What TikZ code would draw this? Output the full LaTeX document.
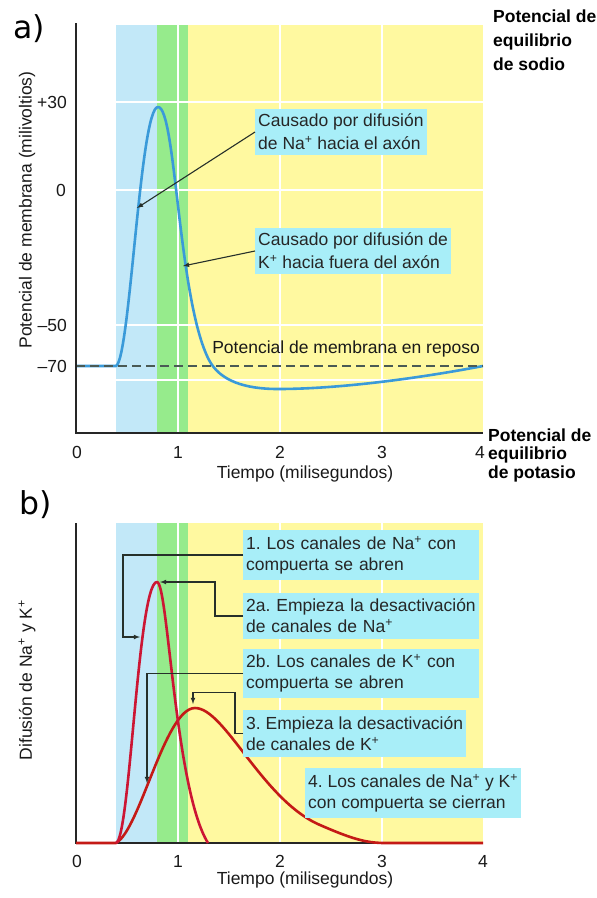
\documentclass[tikz,border=0pt]{standalone}
\usepackage{fontspec}
\setmainfont{Liberation Sans}
\newfontfamily\panelfont{DejaVu Sans}
\usepackage{xcolor}
\usepackage{tikz}

\definecolor{bandblue}{HTML}{C2E8F8}
\definecolor{bandgreen}{HTML}{96EB8C}
\definecolor{bandyellow}{HTML}{FFF9A0}
\definecolor{boxcyan}{HTML}{A8EEF8}
\definecolor{apblue}{HTML}{3A9AD9}
\definecolor{nared}{HTML}{CC1634}
\definecolor{kred}{HTML}{C41A16}
\definecolor{leader}{HTML}{26302A}
\definecolor{restgray}{HTML}{4A5A55}

\frenchspacing
\hyphenpenalty=10000

\begin{document}
\begin{tikzpicture}[x=1pt, y=-1pt,
    lbl/.style={inner sep=0pt, text=black!90, font=\fontsize{17.5}{21}\selectfont},
    callout/.style={fill=boxcyan, anchor=west, align=left, inner xsep=3pt, inner ysep=6pt,
        text=black!85, font=\fontsize{17.5}{21}\selectfont},
    eqlbl/.style={anchor=north west, align=left, inner sep=0pt, font=\bfseries\fontsize{17.5}{24}\selectfont},
    panel/.style={inner sep=0pt, font=\panelfont\fontsize{31.5}{32}\selectfont},
    gridline/.style={white, line width=1.5pt},
    axis/.style={black!85, line width=2.5pt, line join=miter},
    curve/.style={line width=2.6pt, line join=round},
    pointer/.style={-latex, leader, line width=1.1pt}]
    \useasboundingbox (0,0) rectangle (597,898);

    % ---------- a) ----------
    % Bands
    \fill[bandblue] (116,25) rectangle (157,433);
    \fill[bandgreen] (157,25) rectangle (188,433);
    \fill[bandyellow] (188,25) rectangle (483,433);
    \foreach \y in {102,190,325,380} \draw[gridline] (116,\y) -- (483,\y);
    \foreach \x in {178,280,382} \draw[gridline] (\x,25) -- (\x,433);

    % Curve
    \draw[curve, apblue] (76,366) -- (116,366)
        .. controls (130,360) and (140,107) .. (158,107)
        .. controls (176,107) and (178,300) .. (209,360)
        .. controls (220,381) and (245,389) .. (278,389)
        .. controls (340,389) and (420,378) .. (483,366);
    \draw[restgray, line width=1.8pt, dash pattern=on 9pt off 5pt] (76,366) -- (483,366);

    % Axes
    \draw[axis] (76,23) -- (76,433) -- (483,433);

    % Nodes
    \node[panel] (pa) at (29,29) {a)};
    \node[lbl, rotate=90] (ylabA) at (27,210) {Potencial de membrana (milivoltios)};
    \node[lbl, anchor=east] (vp30) at (67,102) {+30};
    \node[lbl, anchor=east] (v0) at (66,190) {0};
    \node[lbl, anchor=east] (vm50) at (67,325) {--50};
    \node[lbl, anchor=east] (vm70) at (67,366) {--70};
    \foreach \t/\x in {0/77,1/178,2/280,3/382,4/480}
        \node[lbl] (ta\t) at (\x,452) {\t};
    \node[lbl] (xlabA) at (305,474) {Tiempo (milisegundos)};
    \node[lbl, anchor=east] (rest) at (480,349) {Potencial de membrana en reposo};
    \node[eqlbl] (eqNa) at (493,9.5) {Potencial de\\equilibrio\\de sodio};
    \node[eqlbl, font=\bfseries\fontsize{17.5}{18.5}\selectfont] (eqK) at (488,428.5) {Potencial de\\equilibrio\\de potasio};
    \node[callout, font=\fontsize{17.5}{23}\selectfont, inner ysep=5pt] (naIn) at (255,132)
        {Causado por difusión\\de Na\textsuperscript{+} hacia el axón};
    \node[callout, font=\fontsize{17.5}{23}\selectfont, inner ysep=5pt] (kOut) at (255,251)
        {Causado por difusión de\\K\textsuperscript{+} hacia fuera del axón};
    \coordinate (apRise) at (137,208);
    \coordinate (apFall) at (183,266);

    % Arrows
    \draw[pointer] (naIn.west) -- (apRise);
    \draw[pointer] (kOut.west) -- (apFall);

    % ---------- b) ----------
    % Bands
    \fill[bandblue] (116,523) rectangle (157,843);
    \fill[bandgreen] (157,523) rectangle (188,843);
    \fill[bandyellow] (188,523) rectangle (483,843);
    \foreach \x in {178,280,382} \draw[gridline] (\x,523) -- (\x,843);

    % Axes
    \draw[axis] (76,523) -- (76,843) -- (483,843);

    % Curves
    \draw[curve, kred] (76,843) -- (116,843)
        .. controls (140,830) and (165,708) .. (195,708)
        .. controls (225,708) and (262,800) .. (320,825)
        .. controls (350,838) and (365,843) .. (385,843) -- (483,843);
    \draw[curve, nared] (116,843)
        .. controls (130,840) and (138,582) .. (157,582)
        .. controls (168,582) and (175,790) .. (208,843);

    % Nodes
    \node[panel] (pb) at (36,505) {b)};
    \node[lbl, rotate=90] (ylabB) at (27,680) {Difusión de Na\textsuperscript{+} y K\textsuperscript{+}};
    \foreach \t/\x in {0/77,1/178,2/280,3/382,4/483}
        \node[lbl] (tb\t) at (\x,861) {\t};
    \node[lbl] (xlabB) at (305,880) {Tiempo (milisegundos)};
    \node[callout, text width=230pt] (open) at (243,555)
        {1. Los canales de Na\textsuperscript{+} con\\compuerta se abren};
    \node[callout, text width=230pt] (naOff) at (243,616)
        {2a. Empieza la desactivación\\de canales de Na\textsuperscript{+}};
    \node[callout, text width=230pt] (kOpen) at (243,673.5)
        {2b. Los canales de K\textsuperscript{+} con\\compuerta se abren};
    \node[callout] (kOff) at (243,733.5)
        {3. Empieza la desactivación\\de canales de K\textsuperscript{+}};
    \node[callout] (close) at (305,793)
        {4. Los canales de Na\textsuperscript{+} y K\textsuperscript{+}\\con compuerta se cierran};
    \coordinate (naRise) at (140,637);
    \coordinate (naPeak) at (160,582);
    \coordinate (kRise) at (147,783);
    \coordinate (kPeak) at (193,704);

    % Arrows
    \draw[pointer] (open.west) -- ++(-120,0) |- (naRise);
    \draw[pointer] (naOff.west) -- ++(-28,0) |- (naPeak);
    \draw[pointer] (kOpen.west) -| (kRise);
    \draw[pointer] (kOff.west) -- ++(-8,0) -- ++(0,-41) -| (kPeak);
\end{tikzpicture}
\end{document}
